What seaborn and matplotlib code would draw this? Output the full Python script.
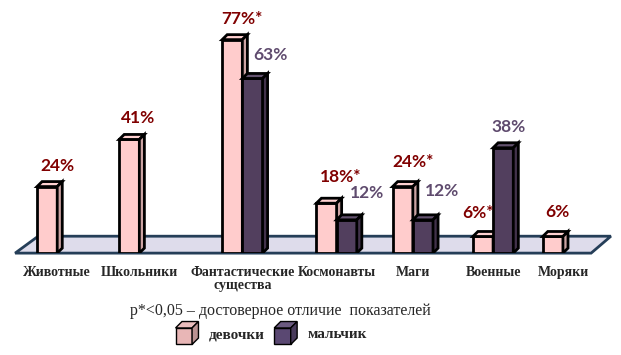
import numpy as np
import pandas as pd
import matplotlib
matplotlib.use('Agg')
import matplotlib.pyplot as plt
import seaborn as sns
from matplotlib.patches import Polygon, Rectangle, Patch
from matplotlib.legend_handler import HandlerBase
import matplotlib.colors as mcolors

# data
categories = ['Животные', 'Школьники', 'Фантастические\nсущества', 'Космонавты', 'Маги', 'Военные', 'Моряки']
girls = [24, 41, 77, 18, 24, 6, 6]
boys = [np.nan, np.nan, 63, 12, 12, 38, np.nan]
girls_sig = [False, False, True, True, True, True, False]
series = ['девочки', 'мальчик']

# layout: group positions along the floor (uneven, as in the picture)
cat_pos = [0.0, 0.976, 2.20, 3.32, 4.226, 5.18, 6.01]
# label offsets in pixels
girls_off = [(10, 21), (9, 21), (10, 21), (14, 26), (10, 25), (-5, 23), (5, 24)]
boys_off = [(0, 0), (0, 0), (18, 23), (20, 27), (19, 29), (5, 21), (0, 0)]

pink = '#FFCCCC'
purple = '#523F5E'
colors = {series[0]: pink, series[1]: purple}
text_col = {series[0]: '#800000', series[1]: '#5F4B6E'}

df = pd.DataFrame({'pos': cat_pos * 2,
                   'val': girls + boys,
                   'grp': [series[0]] * len(categories) + [series[1]] * len(categories)})

sns.set_style('white')
plt.rcParams['font.family'] = ['Lato', 'DejaVu Sans']

fig = plt.figure(figsize=(6.21, 3.55), dpi=100)
ax = fig.add_axes([0, 0.287, 1, 0.713])

min_gap = np.min(np.diff(cat_pos))
sns.barplot(data=df, x='pos', y='val', hue='grp', palette=colors, width=0.48 / min_gap,
            native_scale=True, orient='x', edgecolor='black', linewidth=2, ax=ax,
            legend=False, saturation=1)

ax.set_xlim(-0.68, 6.70)
ax.set_ylim(0, 91.3)


def shade(c, f):
    r, g, b = mcolors.to_rgb(c)
    if f > 1:
        k = f - 1
        return (r + (1 - r) * k, g + (1 - g) * k, b + (1 - b) * k)
    return (r * f, g * f, b * f)


# floor
floor = Polygon([(-0.5, 0), (6.345, 0), (6.58, 6.1), (-0.226, 6.1)], closed=True,
                fc='#DEDCEB', ec='#253E58', lw=2, zorder=1, clip_on=False)
ax.add_patch(floor)

dx, dy = 0.06, 1.8
vals = {series[0]: girls, series[1]: boys}
offs = {series[0]: girls_off, series[1]: boys_off}
for p in list(ax.patches):
    if p is floor:
        continue
    h = p.get_height()
    if not np.isfinite(h) or h <= 0:
        p.set_visible(False)
        continue
    x0, w = p.get_x(), p.get_width()
    fc = mcolors.to_hex(p.get_facecolor())
    grp = series[0] if fc.lower() == pink.lower() else series[1]
    z = 3 if grp == series[0] else 4
    p.set_zorder(z)
    top = Polygon([(x0, h), (x0 + w, h), (x0 + w + dx, h + dy), (x0 + dx, h + dy)],
                  fc=shade(fc, 1.1), ec='black', lw=2, zorder=z, joinstyle='miter')
    side = Polygon([(x0 + w, 0), (x0 + w + dx, dy), (x0 + w + dx, h + dy), (x0 + w, h)],
                   fc=shade(fc, 0.8), ec='black', lw=2, zorder=z, joinstyle='miter')
    ax.add_patch(top)
    ax.add_patch(side)
    gc = x0 + w if grp == series[0] else x0
    i = int(np.argmin(np.abs(np.array(cat_pos) - gc)))
    txt = f'{int(vals[grp][i])}%'
    if grp == series[0] and girls_sig[i]:
        txt += '*'
    ox, oy = offs[grp][i]
    ax.annotate(txt, (x0 + w / 2, h), xytext=(ox, oy), textcoords='offset pixels',
                ha='center', va='center', fontsize=12.5, fontweight='bold',
                color=text_col[grp], zorder=6)

ax.set_xlabel('')
ax.set_ylabel('')
ax.set_yticks([])
ax.set_xticks(cat_pos)
ax.set_xticklabels(categories, fontfamily='Liberation Serif', fontweight='bold', fontsize=10)
for lbl in ax.get_xticklabels():
    lbl.set_linespacing(1.0)
ax.tick_params(axis='x', length=0, pad=9.5)
sns.despine(ax=ax, left=True, bottom=True)

fig.text(0.451, 0.124, 'p*<0,05 – достоверное отличие  показателей',
         ha='center', va='center', fontfamily='Liberation Serif', fontsize=11.5)


class CubeHandler(HandlerBase):
    def create_artists(self, legend, orig_handle, xdescent, ydescent, width, height, fontsize, trans):
        fc = orig_handle.get_facecolor()
        s = fontsize * 1.5
        d = s * 0.28
        x0 = -xdescent
        y0 = -ydescent + height / 2 - s / 2
        front = Rectangle((x0, y0), s - d, s - d, fc=fc, ec='black', lw=1)
        top = Polygon([(x0, y0 + s - d), (x0 + s - d, y0 + s - d), (x0 + s, y0 + s), (x0 + d, y0 + s)],
                      fc=shade(fc, 1.1), ec='black', lw=1)
        side = Polygon([(x0 + s - d, y0), (x0 + s, y0 + d), (x0 + s, y0 + s), (x0 + s - d, y0 + s - d)],
                       fc=shade(fc, 0.8), ec='black', lw=1)
        for a in (front, top, side):
            a.set_transform(trans)
        return [front, top, side]


handles = [Patch(fc='#E8B6B6', label=series[0]), Patch(fc='#5A4872', label=series[1])]
fig.legend(handles=handles, handler_map={Patch: CubeHandler()}, loc='center',
           bbox_to_anchor=(0.437, 0.062), ncol=2, frameon=False,
           prop=dict(family='Liberation Serif', weight='bold', size=11),
           handlelength=1.5, handleheight=1.5, columnspacing=0.6, handletextpad=0.7)

fig.savefig('out.png', dpi=100)
